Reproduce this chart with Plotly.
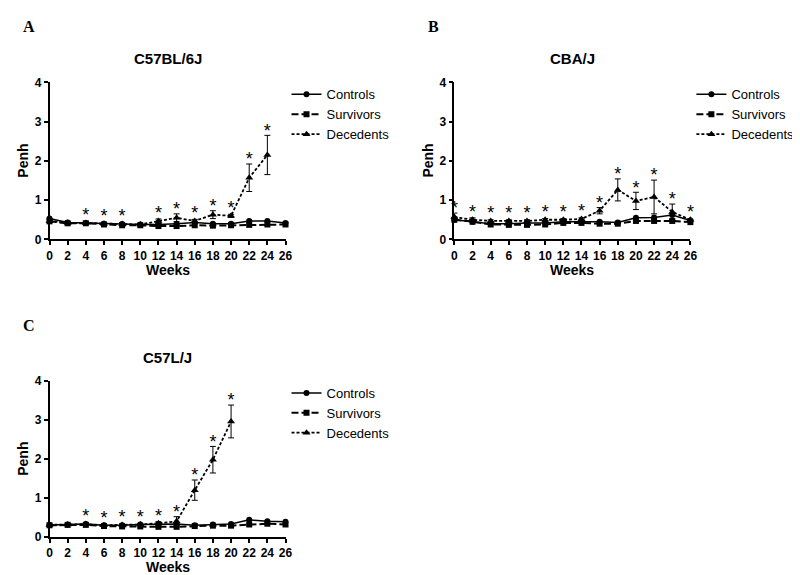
import plotly.graph_objects as go

W, H = 800, 575
weeks = [0, 2, 4, 6, 8, 10, 12, 14, 16, 18, 20, 22, 24, 26]
tick_labels = [str(w) for w in weeks]

# Panel A: C57BL/6J
a_title = "C57BL/6J"
a_controls = [0.53, 0.43, 0.42, 0.40, 0.39, 0.38, 0.38, 0.40, 0.43, 0.40, 0.40, 0.47, 0.47, 0.42]
a_survivors = [0.46, 0.41, 0.41, 0.38, 0.36, 0.36, 0.34, 0.34, 0.36, 0.35, 0.36, 0.37, 0.38, 0.38]
a_dec_weeks = [0, 2, 4, 6, 8, 10, 12, 14, 16, 18, 20, 22, 24]
a_decedents = [0.47, 0.42, 0.42, 0.40, 0.39, 0.38, 0.47, 0.55, 0.47, 0.63, 0.60, 1.57, 2.15]
a_dec_err = [0.03, 0.02, 0.03, 0.03, 0.03, 0.02, 0.05, 0.10, 0.04, 0.10, 0.04, 0.35, 0.50]
a_star_weeks = [4, 6, 8, 12, 14, 16, 18, 20, 22, 24]

# Panel B: CBA/J
b_title = "CBA/J"
b_controls = [0.50, 0.45, 0.40, 0.40, 0.42, 0.42, 0.45, 0.45, 0.45, 0.43, 0.55, 0.56, 0.62, 0.48]
b_survivors = [0.50, 0.45, 0.38, 0.37, 0.37, 0.38, 0.42, 0.42, 0.40, 0.40, 0.47, 0.47, 0.47, 0.44]
b_dec_weeks = [0, 2, 4, 6, 8, 10, 12, 14, 16, 18, 20, 22, 24, 26]
b_decedents = [0.57, 0.50, 0.47, 0.47, 0.47, 0.50, 0.50, 0.52, 0.73, 1.26, 0.98, 1.08, 0.70, 0.50]
b_dec_err = [0.10, 0.05, 0.03, 0.03, 0.03, 0.03, 0.03, 0.03, 0.08, 0.28, 0.22, 0.43, 0.20, 0.03]
b_star_weeks = [0, 2, 4, 6, 8, 10, 12, 14, 16, 18, 20, 22, 24, 26]

# Panel C: C57L/J
c_title = "C57L/J"
c_controls = [0.31, 0.32, 0.33, 0.30, 0.30, 0.32, 0.33, 0.33, 0.30, 0.32, 0.33, 0.44, 0.40, 0.39]
c_survivors = [0.30, 0.31, 0.31, 0.28, 0.27, 0.27, 0.26, 0.26, 0.28, 0.29, 0.29, 0.32, 0.34, 0.32]
c_dec_weeks = [0, 2, 4, 6, 8, 10, 12, 14, 16, 18, 20]
c_decedents = [0.31, 0.32, 0.33, 0.30, 0.31, 0.32, 0.35, 0.40, 1.20, 1.98, 2.96]
c_dec_err = [0.02, 0.02, 0.03, 0.02, 0.02, 0.03, 0.04, 0.12, 0.26, 0.34, 0.42]
c_star_weeks = [4, 6, 8, 10, 12, 14, 16, 18, 20]

series_names = ["Controls", "Survivors", "Decedents"]

FONT = "Liberation Sans, Arial, sans-serif"
BLACK = "#000000"

# plot areas in pixels: (left, right, top, bottom)
boxes = {
    "A": (39, 278, 69, 230),
    "B": (449, 688, 69, 230),
    "C": (39, 278, 375, 535),
}

panels = [
    dict(key="A", ax="", title=a_title, ctrl=a_controls, surv=a_survivors,
         dw=a_dec_weeks, dec=a_decedents, err=a_dec_err, stars=a_star_weeks, legend="legend"),
    dict(key="B", ax="2", title=b_title, ctrl=b_controls, surv=b_survivors,
         dw=b_dec_weeks, dec=b_decedents, err=b_dec_err, stars=b_star_weeks, legend="legend2"),
    dict(key="C", ax="3", title=c_title, ctrl=c_controls, surv=c_survivors,
         dw=c_dec_weeks, dec=c_decedents, err=c_dec_err, stars=c_star_weeks, legend="legend3"),
]

fig = go.Figure()
layout = {}
annotations = []

for p in panels:
    xa, ya = "x" + p["ax"], "y" + p["ax"]
    fig.add_trace(go.Scatter(
        x=weeks, y=p["ctrl"], name=series_names[0], mode="lines+markers",
        xaxis=xa, yaxis=ya, legend=p["legend"], cliponaxis=False,
        line=dict(color=BLACK, width=1.5),
        marker=dict(symbol="circle", size=6, color=BLACK)))
    fig.add_trace(go.Scatter(
        x=weeks, y=p["surv"], name=series_names[1], mode="lines+markers",
        xaxis=xa, yaxis=ya, legend=p["legend"], cliponaxis=False,
        line=dict(color=BLACK, width=2, dash="7px,3px"),
        marker=dict(symbol="square", size=6, color=BLACK)))
    fig.add_trace(go.Scatter(
        x=p["dw"], y=p["dec"], name=series_names[2], mode="lines+markers",
        xaxis=xa, yaxis=ya, legend=p["legend"], cliponaxis=False,
        line=dict(color=BLACK, width=1.8, dash="3px,2px"),
        marker=dict(symbol="triangle-up", size=7, color=BLACK),
        error_y=dict(type="data", array=p["err"], color=BLACK, thickness=1, width=3)))
    # significance stars above decedents points
    sx, sy = [], []
    for w in p["stars"]:
        i = p["dw"].index(w)
        sx.append(w)
        sy.append(p["dec"][i] + max(p["err"][i], 0.08) + 0.08)
    fig.add_trace(go.Scatter(
        x=sx, y=sy, mode="text", text=["*"] * len(sx), textposition="middle center",
        textfont=dict(family=FONT, size=18, color=BLACK), showlegend=False,
        xaxis=xa, yaxis=ya, cliponaxis=False, hoverinfo="skip"))

    l, r, t, b = boxes[p["key"]]
    axis_common = dict(showline=True, linecolor=BLACK, linewidth=1.5, ticks="outside",
                       ticklen=4, tickwidth=1.5, tickcolor=BLACK, showgrid=False,
                       zeroline=False, mirror=False,
                       tickfont=dict(family=FONT, size=12, color=BLACK, weight="bold"))
    layout["xaxis" + p["ax"]] = dict(
        domain=[l / W, r / W], range=[0, 26], tickvals=weeks, ticktext=tick_labels,
        anchor=ya, **axis_common)
    layout["yaxis" + p["ax"]] = dict(
        domain=[1 - b / H, 1 - t / H], range=[0, 4], tickvals=[0, 1, 2, 3, 4],
        anchor=xa, **axis_common)
    cx = (l + r) / 2 / W
    annotations.append(dict(text=p["title"], x=cx, y=1 - (t - 24) / H, xref="paper", yref="paper",
                            showarrow=False, xanchor="center", yanchor="middle",
                            font=dict(family=FONT, size=15, color=BLACK, weight="bold")))
    annotations.append(dict(text="Weeks", x=cx, y=1 - (b + 31) / H, xref="paper", yref="paper",
                            showarrow=False, xanchor="center", yanchor="middle",
                            font=dict(family=FONT, size=14, color=BLACK, weight="bold")))
    annotations.append(dict(text="Penh", x=(l - 27) / W, y=1 - (t + b) / 2 / H, xref="paper",
                            yref="paper", showarrow=False, textangle=-90,
                            xanchor="center", yanchor="middle",
                            font=dict(family=FONT, size=14, color=BLACK, weight="bold")))
    annotations.append(dict(text=p["key"], x=(l - 21) / W, y=1 - (t - 57) / H, xref="paper",
                            yref="paper", showarrow=False, xanchor="center", yanchor="middle",
                            font=dict(family="Liberation Serif, Times New Roman, serif",
                                      size=16, color=BLACK, weight="bold")))
    layout[p["legend"]] = dict(
        x=(r + 1) / W, y=1 - (t - 3) / H, xanchor="left", yanchor="top",
        font=dict(family=FONT, size=13, color=BLACK), bgcolor="rgba(0,0,0,0)",
        tracegroupgap=0, itemwidth=30)

fig.update_layout(
    width=W, height=H, margin=dict(l=0, r=0, t=0, b=0),
    plot_bgcolor="white", paper_bgcolor="white", showlegend=True,
    annotations=annotations, **layout)

fig.write_html("out.html")
